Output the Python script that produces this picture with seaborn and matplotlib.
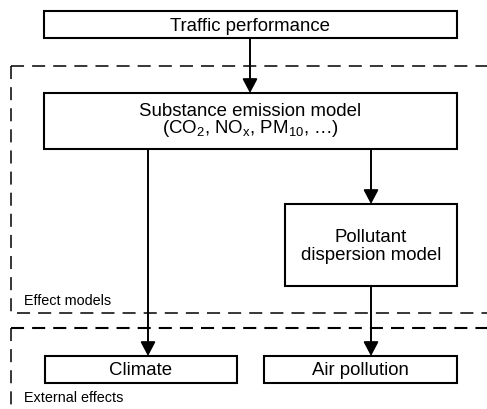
import matplotlib
matplotlib.use("Agg")
import matplotlib.pyplot as plt
import seaborn as sns
from matplotlib.patches import Rectangle

# ---- diagram content ----
box_names = ["traffic", "emission", "dispersion", "climate", "air"]
box_lines = [
    ["Traffic performance"],
    ["Substance emission model", r"(CO$_\mathrm{2}$, NO$_\mathrm{x}$, PM$_\mathrm{10}$, …)"],
    ["Pollutant", "dispersion model"],
    ["Climate"],
    ["Air pollution"],
]
# geometry in pixel units (x0, y0, x1, y1), y downward
box_x0 = [44, 44, 285, 45, 264]
box_y0 = [12, 94, 205, 357, 357]
box_x1 = [457, 457, 457, 237, 457]
box_y1 = [39, 150, 287, 384, 384]
box_baselines = [[31], [115.5, 133], [242, 260], [375], [375]]

# connectors: (x, y_start, y_end)
conn_x = [250, 148, 371, 371]
conn_y0 = [39, 150, 150, 287]
conn_y1 = [94, 357, 205, 357]

region_labels = ["Effect models", "External effects"]
region_label_xy = [(24, 305), (24, 402)]

sns.set_theme(style="white")
plt.rcParams["font.family"] = ["Liberation Sans", "DejaVu Sans"]
plt.rcParams["mathtext.fontset"] = "custom"
plt.rcParams["mathtext.rm"] = "Liberation Sans"
plt.rcParams["mathtext.it"] = "Liberation Sans"
plt.rcParams["lines.scale_dashes"] = False

W, H = 487, 410
fig = plt.figure(figsize=(W / 100, H / 100), dpi=100)
ax = fig.add_axes([0, 0, 1, 1])
ax.set_xlim(0, W)
ax.set_ylim(H, 0)
ax.axis("off")

lw_box = 1.5
fs_main = 13.4
fs_small = 10.4

# dashed region lines
dash = (0, (9.4, 5.8))
ax.plot([10.5, 10.5], [67, 314], color="black", lw=1.1, linestyle=dash)
ax.plot([10.5, W], [67, 67], color="black", lw=1.1, linestyle=dash)
ax.plot([17, W], [314, 314], color="black", lw=1.1, linestyle=dash)
ax.plot([10.5, W], [329, 329], color="black", lw=1.5, linestyle=dash)
ax.plot([10.5, 10.5], [329, H], color="black", lw=1.1, linestyle=dash)

# boxes
for x0, y0, x1, y1, lines, bls in zip(box_x0, box_y0, box_x1, box_y1, box_lines, box_baselines):
    ax.add_patch(Rectangle((x0, y0), x1 - x0, y1 - y0, facecolor="white",
                           edgecolor="black", lw=lw_box, zorder=3))
    cx = (x0 + x1) / 2
    for line, bl in zip(lines, bls):
        ax.text(cx, bl, line, ha="center", va="baseline", fontsize=fs_main,
                color="black", zorder=4)

# connectors with arrowheads
for x, y0, y1 in zip(conn_x, conn_y0, conn_y1):
    ax.annotate("", xy=(x, y1), xytext=(x, y0),
                arrowprops=dict(arrowstyle="-|>,head_length=0.85,head_width=0.45",
                                mutation_scale=10, color="black", lw=1.4,
                                shrinkA=0, shrinkB=0), zorder=2)

for lab, (x, y) in zip(region_labels, region_label_xy):
    ax.text(x, y, lab, ha="left", va="baseline", fontsize=fs_small, color="black")

fig.savefig("out.png", dpi=100, facecolor="white")
